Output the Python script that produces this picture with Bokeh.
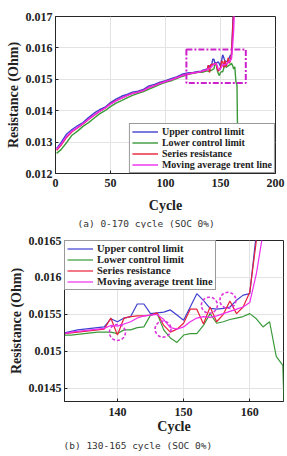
from bokeh.plotting import figure
from bokeh.models import Range1d, FixedTicker, Title, Legend, LegendItem
from bokeh.embed import file_html
from bokeh.resources import INLINE

# ---------------- data ----------------
cycles = [1, 5, 10, 15, 20, 25, 30, 35, 40, 45, 50, 55, 60, 65, 70, 75, 80, 85, 90,
          95, 100, 105, 110, 115, 120, 125, 130,
          131, 132, 133, 134, 135, 136, 137, 138, 139, 140, 141, 142, 143, 144, 145,
          146, 147, 148, 149, 150, 151, 152, 153, 154, 155, 156, 157, 158, 159, 160,
          161, 162, 163, 164, 165, 166]

upper_limit = [0.01280, 0.01298, 0.01325, 0.01340, 0.01352, 0.01362, 0.01378, 0.01392,
               0.01403, 0.01411, 0.01426, 0.01437, 0.01446, 0.01452, 0.01459, 0.01462,
               0.01468, 0.01479, 0.01484, 0.01491, 0.01496, 0.01502, 0.01508, 0.01516,
               0.01520, 0.01522, 0.01525,
               0.01525, 0.01525, 0.01527, 0.01529, 0.01530, 0.01531, 0.01532, 0.01533,
               0.01544, 0.01540, 0.01545, 0.01547, 0.01564, 0.01564, 0.01551, 0.01552,
               0.01553, 0.01556, 0.01549, 0.01542, 0.01560, 0.01578, 0.01569, 0.01558,
               0.01557, 0.01558, 0.01560, 0.01569, 0.01576, 0.01578, 0.01660, 0.01760,
               0.01880]

lower_limit = [0.01264, 0.01276, 0.01298, 0.01322, 0.01335, 0.01350, 0.01362, 0.01376,
               0.01390, 0.01400, 0.01413, 0.01424, 0.01432, 0.01441, 0.01449, 0.01455,
               0.01461, 0.01469, 0.01476, 0.01484, 0.01490, 0.01495, 0.01502, 0.01509,
               0.01515, 0.01519, 0.01522,
               0.01522, 0.01522, 0.01522, 0.01523, 0.01524, 0.01525, 0.01526, 0.01526,
               0.01526, 0.01524, 0.01529, 0.01529, 0.01532, 0.01533, 0.01549, 0.01551,
               0.01529, 0.01518, 0.01512, 0.01522, 0.01524, 0.01524, 0.01535, 0.01551,
               0.01538, 0.01540, 0.01543, 0.01545, 0.01547, 0.01551, 0.01544, 0.01533,
               0.01540, 0.01493, 0.01481, 0.01180]

series_res = [0.01274, 0.01290, 0.01315, 0.01333, 0.01345, 0.01358, 0.01372, 0.01385,
              0.01398, 0.01408, 0.01422, 0.01432, 0.01440, 0.01448, 0.01455, 0.01459,
              0.01465, 0.01474, 0.01480, 0.01488, 0.01493, 0.01498, 0.01505, 0.01512,
              0.01517, 0.01520, 0.01523,
              0.01524, 0.01524, 0.01525, 0.01526, 0.01527, 0.01528, 0.01529, 0.01530,
              0.01545, 0.01522, 0.01545, 0.01547, 0.01548, 0.01548, 0.01549, 0.01552,
              0.01535, 0.01526, 0.01530, 0.01538, 0.01557, 0.01557, 0.01537, 0.01560,
              0.01540, 0.01550, 0.01568, 0.01551, 0.01560, 0.01580, 0.01650, 0.01730,
              0.01850]

moving_avg = [0.01277, 0.01293, 0.01318, 0.01335, 0.01347, 0.01359, 0.01373, 0.01386,
              0.01398, 0.01408, 0.01421, 0.01431, 0.01440, 0.01448, 0.01455, 0.01459,
              0.01465, 0.01474, 0.01480, 0.01487, 0.01493, 0.01498, 0.01505, 0.01512,
              0.01517, 0.01520, 0.01523,
              0.01524, 0.01524, 0.01526, 0.01527, 0.01528, 0.01529, 0.01530, 0.01531,
              0.01535, 0.01534, 0.01537, 0.01540, 0.01545, 0.01548, 0.01549, 0.01550,
              0.01543, 0.01532, 0.01530, 0.01533, 0.01540, 0.01545, 0.01547, 0.01546,
              0.01548, 0.01551, 0.01554, 0.01557, 0.01560, 0.01566, 0.01605, 0.01660,
              0.01750, 0.01880]

series_names = ["Upper control limit", "Lower control limit", "Series resistance",
                "Moving average trent line"]

# highlighted region (top chart) and circled points (bottom chart)
box_x = [119, 173]
box_y = [0.01488, 0.01595]
circle_x = [140, 146.9, 153.9, 156.7]
circle_y = [0.015255, 0.01530, 0.015624, 0.01569]

top_xticks = [0, 50, 100, 150, 200]
top_yticks = [0.012, 0.013, 0.014, 0.015, 0.016, 0.017]
bot_xticks = [140, 150, 160]
bot_yticks = [0.0145, 0.015, 0.0155, 0.016, 0.0165]
bot_ylabels = ["0.0145", "0.015", "0.0155", "0.016", "0.0165"]

captions = ["(a) 0-170 cycle (SOC 0%)", "(b) 130-165 cycle (SOC 0%)"]

# ---------------- styling ----------------
colors = ["#3f3fd0", "#3a9a3a", "#e8203a", "#ee2cee"]
SERIF = "Liberation Serif"
MONO = "DejaVu Sans Mono"


def make_plot(xr, yr, xticks, yticks, borders, legend_loc, caption, cap_offset,
              lw, leg_font, xstand, ystand, ylabels=None, box=False, circles=False):
    left, right, top, bottom = borders
    xl_stand, xa_stand, t_stand = xstand
    p = figure(width=287, height=228, output_backend="svg", toolbar_location=None,
               x_range=Range1d(*xr), y_range=Range1d(*yr),
               min_border_left=left, min_border_right=right,
               min_border_top=top, min_border_bottom=bottom)
    p.outline_line_color = "#262626"
    p.outline_line_width = 1
    p.background_fill_color = "white"
    p.border_fill_color = "white"

    renderers = []
    data = [upper_limit, lower_limit, series_res, moving_avg]
    for vals, col in zip(data, colors):
        r = p.line(cycles[:len(vals)], vals, line_color=col, line_width=lw)
        renderers.append(r)

    if box:
        p.quad(left=[box_x[0]], right=[box_x[1]], bottom=[box_y[0]], top=[box_y[1]],
               fill_alpha=0, line_color="#cc22cc", line_width=2, line_dash="6 2 2 2")
    if circles:
        p.scatter(circle_x, circle_y, marker="circle", size=16, fill_alpha=0,
                  line_color="#dd33dd", line_width=1.6, line_dash="3 2")

    p.xaxis.ticker = FixedTicker(ticks=xticks)
    p.yaxis.ticker = FixedTicker(ticks=yticks)
    if ylabels is not None:
        p.yaxis.major_label_overrides = {t: s for t, s in zip(yticks, ylabels)}
    for ax in (p.xaxis, p.yaxis):
        ax.major_label_text_font = SERIF
        ax.major_label_text_font_style = "bold"
        ax.major_label_text_font_size = "12px"
        ax.major_label_text_color = "#222222"
        ax.axis_label_text_font = SERIF
        ax.axis_label_text_font_style = "bold"
        ax.axis_label_text_font_size = "14px"
        ax.axis_label_text_color = "#222222"
        ax.axis_line_color = "#262626"
        ax.major_tick_line_color = "#262626"
        ax.major_tick_in = 3
        ax.major_tick_out = 0
        ax.minor_tick_line_color = None
    p.yaxis.major_label_standoff = ystand[0]
    p.yaxis.axis_label_standoff = ystand[1]
    p.xaxis.major_label_standoff = xl_stand
    p.xaxis.axis_label_standoff = xa_stand
    p.xaxis.axis_label = "Cycle"
    p.yaxis.axis_label = "Resistance (Ohm)"
    p.xgrid.ticker = FixedTicker(ticks=xticks)
    p.ygrid.ticker = FixedTicker(ticks=yticks)
    p.grid.grid_line_color = "#e3e3e3"
    p.grid.grid_line_width = 1

    legend = Legend(items=[LegendItem(label=n, renderers=[r])
                           for n, r in zip(series_names, renderers)],
                    location=legend_loc)
    legend.label_text_font = SERIF
    legend.label_text_font_style = "bold"
    legend.label_text_font_size = leg_font
    legend.label_text_color = "#222222"
    legend.glyph_width = 26
    legend.glyph_height = 11
    legend.label_height = 11
    legend.label_standoff = 4
    legend.spacing = 0
    legend.padding = 2
    legend.margin = 0
    legend.border_line_color = "#333333"
    legend.border_line_width = 1
    legend.background_fill_color = "white"
    legend.background_fill_alpha = 1
    p.add_layout(legend)

    t = Title(text=caption, align="left", offset=cap_offset, standoff=t_stand,
              text_font=MONO, text_font_size="9.5px", text_font_style="normal",
              text_color="#333333")
    p.add_layout(t, "below")
    return p


p1 = make_plot((0, 200), (0.012, 0.017), top_xticks, top_yticks,
               (55, 12, 16, 52), "bottom_right", captions[0], 22, 1.4, "10px",
               (5, 8, 0), (3, 2), box=True)
p2 = make_plot((132, 165.1), (0.01432, 0.0165), bot_xticks, bot_yticks,
               (64, 4, 12, 55), "top_left", captions[1], -1, 1.2, "10.5px",
               (6, 0, 3), (3, 2), ylabels=bot_ylabels, circles=True)

open("out.html", "w").write(file_html([p1, p2], INLINE))
